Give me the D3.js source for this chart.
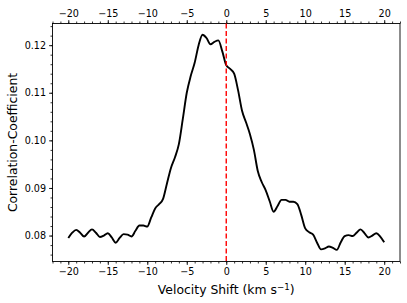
<!DOCTYPE html>
<html>
<head>
<meta charset="utf-8">
<script src="https://cdn.jsdelivr.net/npm/d3@7"></script>
<style>
  body { margin: 0; background: #fff; }
  text { font-family: "DejaVu Sans", sans-serif; }
</style>
</head>
<body>
<div id="chart"></div>
<script>
// velocity shift grid (km/s) and cross-correlation values
const velocity = d3.range(-20, 20.01, 0.5);
const corr = [
  0.0795, 0.0806, 0.0812, 0.0806, 0.0798, 0.0806, 0.0813, 0.0806, 0.0797, 0.0800,
  0.0805, 0.0796, 0.0785, 0.0795, 0.0803, 0.0802, 0.0798, 0.0810, 0.0821, 0.0821,
  0.0819, 0.0838, 0.0857, 0.0866, 0.0877, 0.0910, 0.0942, 0.0964, 0.0992, 0.1045,
  0.1100, 0.1135, 0.1163, 0.1200, 0.1222, 0.1215, 0.1202, 0.1207, 0.1210, 0.1187,
  0.1158, 0.1150, 0.1140, 0.1105, 0.1062, 0.1038, 0.1013, 0.0980, 0.0935, 0.0912,
  0.0895, 0.0872, 0.0850, 0.0862, 0.0875, 0.0875, 0.0871, 0.0871, 0.0866, 0.0843,
  0.0815, 0.0807, 0.0802, 0.0785, 0.0771, 0.0773, 0.0777, 0.0774, 0.0770, 0.0786,
  0.0799, 0.0801, 0.0799, 0.0806, 0.0813, 0.0805, 0.0796, 0.0800, 0.0805, 0.0798,
  0.0786
];
const xTicks = [-20, -15, -10, -5, 0, 5, 10, 15, 20];
const yTicks = [0.08, 0.09, 0.10, 0.11, 0.12];
const markerVelocity = 0;

const data = velocity.map((v, i) => ({ v: v, c: corr[i] }));

const margin = { top: 23.5, right: 7, bottom: 41.5, left: 52.5 },
  W = 407, H = 303,
  width = W - margin.left - margin.right,
  height = H - margin.top - margin.bottom;

const svg = d3.select("#chart").append("svg")
  .attr("width", W)
  .attr("height", H);
const g = svg.append("g")
  .attr("transform", `translate(${margin.left},${margin.top})`);

const x = d3.scaleLinear().domain([-22, 22]).range([0, width]);
const y = d3.scaleLinear().domain([0.07455, 0.12455]).range([height, 0]);

// minor ticks first
g.append("g")
  .attr("class", "axis")
  .attr("transform", `translate(0,${height})`)
  .call(d3.axisBottom(x).tickValues(d3.range(-22, 22.01, 1)).tickSize(2).tickFormat(""));
g.append("g")
  .attr("class", "axis")
  .call(d3.axisTop(x).tickValues(d3.range(-22, 22.01, 1)).tickSize(2).tickFormat(""));
g.append("g")
  .attr("class", "axis")
  .call(d3.axisLeft(y).tickValues(d3.range(0.076, 0.1241, 0.002)).tickSize(2).tickFormat(""));

// major ticks
g.append("g")
  .attr("class", "axis")
  .attr("transform", `translate(0,${height})`)
  .call(d3.axisBottom(x).tickValues(xTicks).tickSize(3.5).tickPadding(3));
g.append("g")
  .attr("class", "axis")
  .call(d3.axisTop(x).tickValues(xTicks).tickSize(3.5).tickPadding(3));
g.append("g")
  .attr("class", "axis")
  .call(d3.axisLeft(y).tickValues(yTicks).tickSize(3.5).tickPadding(3).tickFormat(d3.format(".2f")));

g.selectAll(".axis .domain").remove();
g.selectAll(".axis text").style("font-size", "9.6px").attr("fill", "#000");
g.selectAll(".axis line").attr("stroke", "#000").attr("stroke-width", 0.8);

// frame
g.append("rect")
  .attr("width", width)
  .attr("height", height)
  .attr("fill", "none")
  .attr("stroke", "#000")
  .attr("stroke-width", 0.9);

// curve
g.append("path")
  .datum(data)
  .attr("fill", "none")
  .attr("stroke", "#000")
  .attr("stroke-width", 1.9)
  .attr("stroke-linejoin", "round")
  .attr("d", d3.line().x(d => x(d.v)).y(d => y(d.c)).curve(d3.curveMonotoneX));

// zero-velocity marker
g.append("line")
  .attr("x1", x(markerVelocity)).attr("x2", x(markerVelocity))
  .attr("y1", 0).attr("y2", height)
  .attr("stroke", "#ff0000")
  .attr("stroke-width", 1.4)
  .attr("stroke-dasharray", "5,2.5");

// axis titles
const xl = svg.append("text")
  .attr("x", margin.left + width / 2)
  .attr("y", H - 9)
  .attr("text-anchor", "middle")
  .style("font-size", "12.4px")
  .attr("fill", "#000");
xl.append("tspan").text("Velocity Shift (km s");
xl.append("tspan").attr("dy", -4.5).style("font-size", "8.7px").text("\u22121");
xl.append("tspan").attr("dy", 4.5).text(")");

svg.append("text")
  .attr("transform", `translate(17,${margin.top + height / 2}) rotate(-90)`)
  .attr("text-anchor", "middle")
  .style("font-size", "12.4px")
  .attr("fill", "#000")
  .text("Correlation-Coefficient");
</script>
</body>
</html>
